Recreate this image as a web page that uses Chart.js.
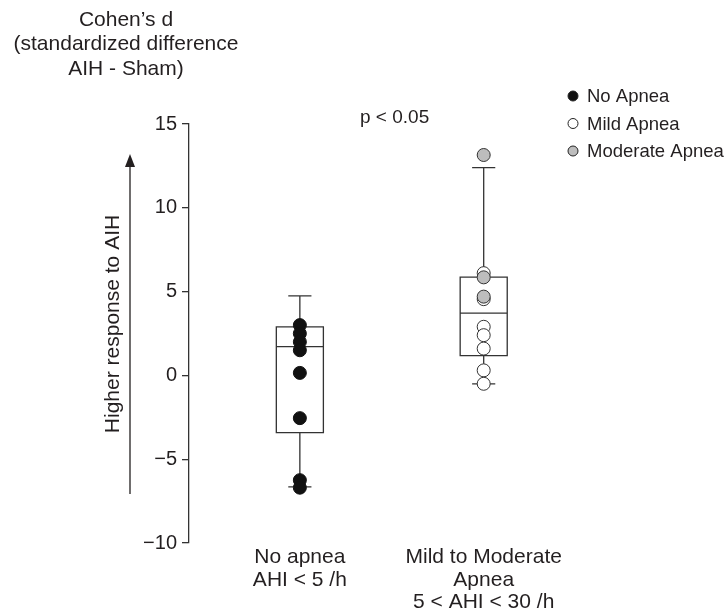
<!DOCTYPE html>
<html><head><meta charset="utf-8">
<script src="https://cdn.jsdelivr.net/npm/chart.js@4.4.1/dist/chart.umd.min.js"></script>
<style>html,body{margin:0;padding:0;background:#fff;} #wrap{width:726px;height:612px;position:relative;}</style>
</head><body><div id="wrap"><canvas id="c" width="726" height="612"></canvas></div>
<script>
const categories = [["No apnea","AHI < 5 /h"],["Mild to Moderate","Apnea","5 < AHI < 30 /h"]];
const categoryPositions = [1, 2];
const boxMin = [-6.65, -0.5];
const boxQ1 = [-3.42, 1.18];
const boxMedian = [1.72, 3.71];
const boxQ3 = [2.9, 5.86];
const boxMax = [4.75, 12.4];
const noApnea = [3.0, 2.5, 2.0, 1.5, 0.15, -2.55, -6.25, -6.7];
const mildApnea = [6.1, 4.55, 2.9, 2.4, 1.6, 0.3, -0.5];
const moderateApnea = [13.15, 5.85, 4.7];
const yTicks = [-10, -5, 0, 5, 10, 15];
const titleLines = ["Cohen’s d", "(standardized difference", "AIH - Sham)"];
const yLabel = "Higher response to AIH";
const pLabel = "p < 0.05";
const legendLabels = ["No Apnea", "Mild Apnea", "Moderate Apnea"];
const legendFills = ["#111111", "#ffffff", "#bdbdbd"];

const FONT = "'Liberation Sans', Arial, Helvetica, sans-serif";
const INK = "#231f20";

const boxPlugin = {
  id: 'boxes',
  beforeDatasetsDraw(chart) {
    const ctx = chart.ctx, xs = chart.scales.x, ys = chart.scales.y;
    ctx.save();
    ctx.strokeStyle = "#333333";
    ctx.lineWidth = 1.3;
    categoryPositions.forEach((p, i) => {
      const xc = xs.getPixelForValue(p);
      const xl = xs.getPixelForValue(p - 0.128), xr = xs.getPixelForValue(p + 0.128);
      const cl = xs.getPixelForValue(p - 0.063), cr = xs.getPixelForValue(p + 0.063);
      const yMin = ys.getPixelForValue(boxMin[i]), yQ1 = ys.getPixelForValue(boxQ1[i]);
      const yMed = ys.getPixelForValue(boxMedian[i]), yQ3 = ys.getPixelForValue(boxQ3[i]);
      const yMax = ys.getPixelForValue(boxMax[i]);
      ctx.beginPath();
      ctx.rect(xl, yQ3, xr - xl, yQ1 - yQ3);
      ctx.moveTo(xl, yMed); ctx.lineTo(xr, yMed);
      ctx.moveTo(xc, yQ3); ctx.lineTo(xc, yMax);
      ctx.moveTo(cl, yMax); ctx.lineTo(cr, yMax);
      ctx.moveTo(xc, yQ1); ctx.lineTo(xc, yMin);
      ctx.moveTo(cl, yMin); ctx.lineTo(cr, yMin);
      ctx.stroke();
    });
    ctx.restore();
  },
  afterDraw(chart) {
    const ctx = chart.ctx;
    ctx.save();
    ctx.fillStyle = INK;
    ctx.textAlign = 'center';
    ctx.textBaseline = 'middle';
    ctx.font = "21px " + FONT;
    titleLines.forEach((t, i) => ctx.fillText(t, 126, 20 + i * 24.5));
    ctx.font = "19px " + FONT;
    ctx.textAlign = 'left';
    ctx.fillText(pLabel, 360, 118);
    ctx.save();
    ctx.translate(113, 324);
    ctx.rotate(-Math.PI / 2);
    ctx.textAlign = 'center';
    ctx.font = "21px " + FONT;
    ctx.fillText(yLabel, 0, 0);
    ctx.restore();
    ctx.strokeStyle = INK;
    ctx.lineWidth = 1.3;
    ctx.beginPath();
    ctx.moveTo(130, 494); ctx.lineTo(130, 165);
    ctx.stroke();
    ctx.beginPath();
    ctx.moveTo(130, 154); ctx.lineTo(125, 167); ctx.lineTo(135, 167); ctx.closePath();
    ctx.fill();
    ctx.font = "18.5px " + FONT;
    ctx.textAlign = 'left';
    legendLabels.forEach((t, i) => {
      const y = 96 + i * 27.5;
      ctx.beginPath();
      ctx.arc(573, y, 5, 0, Math.PI * 2);
      ctx.fillStyle = legendFills[i];
      ctx.fill();
      ctx.strokeStyle = "#222";
      ctx.lineWidth = 1;
      ctx.stroke();
      ctx.fillStyle = INK;
      ctx.fillText(t, 587, y + 1);
    });
    ctx.restore();
  }
};

const pts = (arr, i) => arr.map(v => ({x: categoryPositions[i], y: v}));

new Chart(document.getElementById('c'), {
  type: 'scatter',
  data: {
    datasets: [
      {label: legendLabels[2], data: pts(moderateApnea, 1), backgroundColor: legendFills[2], borderColor: "#333", borderWidth: 1, pointRadius: 6.5, order: 0},
      {label: legendLabels[1], data: pts(mildApnea, 1), backgroundColor: legendFills[1], borderColor: "#333", borderWidth: 1, pointRadius: 6.5, order: 1},
      {label: legendLabels[0], data: pts(noApnea, 0), backgroundColor: legendFills[0], borderColor: "#111", borderWidth: 1, pointRadius: 6.5, order: 2}
    ]
  },
  options: {
    responsive: false,
    animation: false,
    devicePixelRatio: 1,
    layout: {padding: {top: 124, right: 132, bottom: 0, left: 0}},
    plugins: {legend: {display: false}, tooltip: {enabled: false}},
    scales: {
      x: {
        type: 'linear', min: 0.397, max: 2.6,
        grid: {display: false, drawTicks: false},
        border: {display: false},
        afterBuildTicks: s => { s.ticks = categoryPositions.map(v => ({value: v})); },
        afterFit: s => { s.height = 69; },
        ticks: {
          padding: 3,
          color: INK,
          font: {family: FONT, size: 21, lineHeight: 1.08},
          callback: (v, idx) => categories[idx],
          maxRotation: 0, autoSkip: false
        }
      },
      y: {
        min: -10, max: 15,
        afterBuildTicks: s => { s.ticks = yTicks.map(v => ({value: v})); },
        afterFit: s => { s.width = 189; },
        grid: {display: true, drawOnChartArea: false, drawTicks: true, tickLength: 7, color: "#333", lineWidth: 1.3},
        border: {display: true, color: "#333", width: 1.3},
        ticks: {
          padding: 5,
          color: INK,
          font: {family: FONT, size: 20},
          callback: v => (v < 0 ? "\u2212" + Math.abs(v) : String(v))
        }
      }
    }
  },
  plugins: [boxPlugin]
});
</script>
</body></html>
